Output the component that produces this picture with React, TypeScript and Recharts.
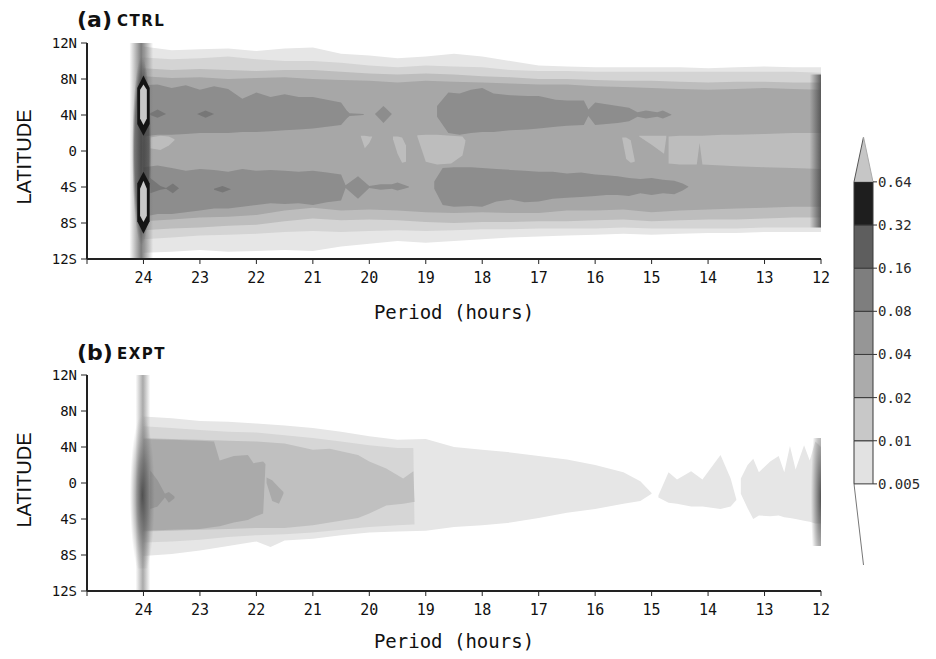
import React from 'react';
import { ComposedChart, Area, XAxis, YAxis, BarChart, Bar } from 'recharts';

// [period (h), southern edge (deg), northern edge (deg)]
type Seg = [number, number, number];

const periodTicks = [25, 24, 23, 22, 21, 20, 19, 18, 17, 16, 15, 14, 13, 12];
const latTicks = [12, 8, 4, 0, -4, -8, -12];

// ---- (a) CTRL : outer contour bands on a half-hour grid ----
const ctrlPeriods = [24, 23.5, 23, 22.5, 22, 21.5, 21, 20.5, 20, 19.5, 19, 18.5, 18, 17.5, 17, 16.5, 16, 15.5, 15, 14.5, 14, 13.5, 13, 12.5, 12];
const ctrlL1Hi = [11.6, 11.2, 11.3, 11.4, 11.1, 11.4, 11.5, 10.8, 10.6, 10.3, 10.5, 10.8, 10.5, 10.0, 9.5, 9.4, 9.3, 9.3, 9.3, 9.3, 9.2, 9.3, 9.4, 9.3, 9.3];
const ctrlL1Lo = [-11.3, -11.2, -11.0, -11.2, -11.1, -11.0, -11.1, -10.6, -10.3, -10.0, -10.2, -10.0, -9.8, -9.6, -9.5, -9.4, -9.3, -9.2, -9.3, -9.2, -9.1, -9.1, -9.0, -9.0, -9.0];
const ctrlL2Hi = [10.4, 10.2, 10.3, 10.5, 10.2, 10.0, 10.0, 9.8, 9.5, 9.3, 9.5, 9.4, 9.3, 9.0, 8.9, 8.9, 8.8, 8.8, 8.8, 8.8, 8.8, 8.8, 8.8, 8.8, 8.7];
const ctrlL2Lo = [-9.8, -9.6, -9.4, -9.3, -9.2, -9.0, -8.9, -9.0, -8.9, -8.8, -8.9, -8.8, -8.7, -8.7, -8.6, -8.6, -8.6, -8.5, -8.6, -8.6, -8.6, -8.6, -8.5, -8.5, -8.5];
const ctrlL3Hi = [9.2, 9.0, 9.1, 9.0, 8.9, 9.0, 9.0, 8.8, 8.6, 8.5, 8.6, 8.5, 8.3, 8.2, 8.0, 8.0, 7.9, 7.8, 7.8, 7.7, 7.6, 7.7, 7.7, 7.6, 7.6];
const ctrlL3Lo = [-8.8, -8.6, -8.5, -8.3, -8.2, -7.8, -7.5, -7.7, -7.6, -7.7, -7.9, -8.0, -7.9, -7.9, -7.8, -7.8, -7.7, -7.6, -7.8, -7.7, -7.6, -7.6, -7.5, -7.4, -7.4];
const ctrlL4Hi = [8.3, 8.1, 8.2, 8.0, 8.1, 8.2, 8.0, 7.9, 7.8, 7.6, 7.8, 7.7, 7.6, 7.5, 7.4, 7.4, 7.2, 7.1, 7.0, 6.9, 6.8, 6.9, 7.0, 6.9, 6.8];
const ctrlL4Lo = [-7.8, -7.6, -7.4, -7.3, -7.1, -6.6, -6.3, -6.6, -6.5, -6.6, -6.8, -6.9, -6.8, -6.9, -6.9, -6.6, -6.6, -6.5, -6.8, -6.6, -6.5, -6.4, -6.3, -6.2, -6.2];

// weaker patches near the equator
const ctrlHoles: Seg[][] = [
  [[23.88, 0.3, 1.5], [23.7, 0.1, 1.7], [23.55, 0.6, 1.6], [23.45, 1.2, 1.3]],
  [[20.15, 1.6, 1.7], [20.08, 0.3, 1.7], [20.0, 0.9, 1.6], [19.95, 1.55, 1.6]],
  [[19.58, 1.3, 1.6], [19.5, -0.3, 1.6], [19.42, -1.3, 1.5], [19.35, -1.2, 0.6]],
  [[19.15, 1.6, 1.75], [19.0, -1.2, 1.8], [18.8, -1.5, 1.8], [18.55, -1.4, 1.7], [18.35, -0.5, 1.6], [18.3, 1.0, 1.2]],
  [[15.52, 1.4, 1.5], [15.45, -0.9, 1.5], [15.37, -1.3, 1.2], [15.3, -1.2, -1.0]],
  [[15.22, 1.6, 1.7], [15.0, 0.7, 1.7], [14.78, -0.3, 1.7], [14.74, 1.5, 1.7]],
  [[14.7, -1.4, 1.6], [14.5, -1.5, 1.7], [14.2, -1.5, 1.7], [14.15, 0.9, 1.7], [14.1, -1.5, 1.7], [13.75, -1.6, 1.8], [13.5, -1.7, 1.8], [13.0, -1.8, 1.9], [12.5, -1.9, 2.0], [12.0, -2.0, 2.0]],
];

// stronger bands along 4N and 4S
const ctrlNorth1: Seg[] = [[24, 1.6, 7.3], [23.75, 1.8, 7.4], [23.5, 1.8, 7.0], [23.25, 1.9, 7.3], [23, 2.0, 6.8], [22.75, 2.0, 7.2], [22.5, 2.0, 6.9], [22.25, 2.1, 5.8], [22, 2.1, 6.5], [21.75, 2.2, 6.0], [21.5, 2.3, 6.3], [21.25, 2.4, 6.0], [21, 2.5, 6.0], [20.75, 2.7, 5.7], [20.5, 2.9, 5.4], [20.4, 3.6, 4.5], [20.35, 3.9, 4.2], [20.1, 4.0, 4.1]];
const ctrlNorth2: Seg[] = [[19.9, 4.1, 4.1], [19.75, 3.1, 5.0], [19.6, 4.1, 4.1]];
const ctrlNorth3: Seg[] = [[18.8, 3.8, 5.0], [18.6, 2.0, 6.5], [18.4, 1.8, 6.4], [18.2, 2.0, 6.8], [18.0, 2.1, 7.0], [17.8, 2.1, 6.4], [17.5, 2.3, 6.2], [17.2, 2.4, 6.1], [17.0, 2.5, 6.1], [16.7, 2.7, 5.7], [16.5, 2.8, 5.6], [16.2, 2.9, 5.6], [16.12, 3.9, 4.6], [16.0, 2.9, 5.4], [15.8, 3.0, 5.2], [15.6, 3.1, 5.0], [15.4, 3.3, 4.8], [15.25, 3.8, 4.3], [15.1, 3.6, 4.5], [14.9, 3.8, 4.3], [14.8, 3.6, 4.5], [14.65, 4.0, 4.05]];
const ctrlSouth1: Seg[] = [[24, -7.3, -1.8], [23.75, -7.0, -1.6], [23.5, -7.0, -1.9], [23.25, -6.8, -2.2], [23, -6.6, -2.0], [22.75, -6.4, -2.1], [22.5, -6.4, -2.3], [22.25, -6.2, -2.0], [22, -6.0, -2.2], [21.75, -5.8, -2.1], [21.5, -5.9, -2.2], [21.25, -5.8, -2.3], [21, -6.0, -2.2], [20.75, -5.7, -2.4], [20.5, -5.5, -2.6], [20.42, -4.1, -3.8], [20.2, -5.3, -2.8], [20.0, -4.1, -3.9], [19.8, -4.3, -3.7], [19.6, -4.2, -3.7], [19.5, -4.4, -3.5], [19.3, -4.05, -3.95]];
const ctrlSouth2: Seg[] = [[18.85, -4.2, -3.4], [18.7, -6.0, -1.9], [18.5, -6.2, -1.8], [18.2, -6.1, -1.8], [18.0, -6.2, -1.9], [17.75, -5.6, -2.0], [17.5, -5.4, -2.1], [17.25, -5.7, -2.2], [17.0, -5.6, -2.3], [16.75, -5.3, -2.3], [16.5, -5.2, -2.5], [16.25, -5.1, -2.4], [16.0, -5.0, -2.6], [15.8, -4.9, -2.7], [15.6, -4.9, -2.8], [15.4, -5.0, -3.0], [15.2, -4.7, -3.1], [15.0, -4.9, -3.0], [14.8, -4.7, -3.2], [14.6, -4.8, -3.3], [14.45, -4.4, -3.6], [14.35, -4.0, -3.95]];
const ctrlDiamonds: Seg[][] = [
  [[23.88, 4.0, 4.2], [23.75, 3.7, 4.6], [23.6, 4.1, 4.1]],
  [[23.05, 4.1, 4.1], [22.9, 3.7, 4.5], [22.75, 4.1, 4.1]],
  [[23.88, -4.7, -3.0], [23.7, -4.3, -3.9], [23.6, -4.2, -4.1], [23.48, -4.7, -3.6], [23.37, -4.15, -4.15]],
  [[22.75, -4.3, -4.2], [22.6, -4.6, -3.9], [22.45, -4.25, -4.25]],
];
// diurnal peak at 24 h and the 12 h edge
const ctrlSpike24: Seg[] = [[24.25, -12, 12], [23.83, -12, 12]];
const ctrlSpike24Core: Seg[] = [[24.2, -10.5, 10.5], [23.86, -10.5, 10.5]];
const ctrlSpike12: Seg[] = [[12.2, -8.5, 8.5], [12.0, -8.5, 8.5]];
const ctrlRingN: Seg[] = [[24.11, 3.0, 7.0], [24.0, 1.7, 8.4], [23.89, 3.0, 7.0]];
const ctrlEyeN: Seg[] = [[24.06, 3.6, 6.8], [24.0, 2.9, 7.4], [23.94, 3.6, 6.8]];
const ctrlRingS: Seg[] = [[24.11, -7.8, -3.6], [24.0, -9.2, -2.3], [23.89, -7.8, -3.6]];
const ctrlEyeS: Seg[] = [[24.06, -7.2, -4.2], [24.0, -7.9, -3.3], [23.94, -7.2, -4.2]];

// ---- (b) EXPT ----
const exptOuter: Seg[][] = [
  [[24, -8.1, 7.4], [23.5, -7.9, 7.2], [23, -7.5, 6.9], [22.5, -7.0, 6.8], [22, -6.5, 6.6], [21.75, -7.1, 6.5], [21.5, -6.4, 6.4], [21, -6.2, 6.1], [20.5, -5.8, 5.7], [20, -5.5, 5.2], [19.5, -5.4, 4.8], [19, -5.3, 4.9], [18.5, -4.9, 4.0], [18, -4.7, 3.7], [17.5, -4.4, 3.4], [17, -3.9, 3.0], [16.5, -3.3, 2.6], [16, -2.9, 2.0], [15.5, -2.3, 1.2], [15.2, -2.0, 0.2], [15.0, -1.2, -1.1]],
  [[14.88, -1.6, -1.4], [14.7, -2.2, 1.2], [14.55, -2.3, 0.4], [14.3, -2.6, 1.3], [14.1, -2.6, 0.4], [13.78, -2.9, 3.1], [13.6, -2.6, 0.5], [13.5, -1.9, -1.8]],
  [[13.42, -1.2, 0.5], [13.3, -2.8, 2.0], [13.2, -4.0, 2.7], [13.1, -3.6, 1.2], [12.9, -3.7, 2.4], [12.75, -3.6, 3.0], [12.65, -3.8, 1.2], [12.55, -3.9, 4.1], [12.45, -4.0, 1.5], [12.3, -4.2, 4.2], [12.2, -4.3, 2.5], [12.1, -4.5, 4.6], [12.0, -4.5, 4.0]],
];
const exptL2: Seg[] = [[24, -6.6, 6.3], [23.5, -6.5, 6.1], [23, -6.3, 5.9], [22.5, -6.0, 5.7], [22, -5.8, 5.6], [21.5, -5.7, 5.3], [21, -5.5, 5.0], [20.5, -5.2, 4.6], [20, -4.9, 4.2], [19.5, -4.7, 3.9], [19.22, -4.6, 3.9], [19.2, -4.6, -4.5]];
const exptL3: Seg[] = [[24, -5.4, 5.0], [23.5, -5.3, 4.9], [23, -5.2, 4.8], [22.5, -5.1, 4.7], [22, -5.0, 4.6], [21.5, -5.0, 4.4], [21, -4.7, 3.7], [20.7, -4.4, 3.8], [20.2, -3.9, 3.1], [20, -3.4, 2.4], [19.7, -2.5, 1.6], [19.4, -2.3, 0.5], [19.22, -2.1, 1.3], [19.2, -2.1, -2.0]];
const exptL4: Seg[][] = [
  [[24, -5.3, 4.9], [23.5, -5.2, 4.8], [23, -5.1, 4.7], [22.75, -4.9, 4.6], [22.65, -4.8, 2.5], [22.4, -4.4, 3.0], [22.15, -4.1, 3.1], [22.05, -3.8, 2.2], [21.88, -3.4, 2.4], [21.84, 1.9, 2.1]],
  [[21.82, 0.0, 0.6], [21.72, -2.0, 0.3], [21.6, -2.3, -0.5], [21.52, -1.2, -1.0]],
];
const exptL5: Seg[] = [[23.88, -2.9, 1.4], [23.75, -2.6, 0.3], [23.62, -1.6, -1.2], [23.55, -2.2, -1.0], [23.45, -1.7, -1.5]];
const exptSpike24: Seg[] = [[24.14, -12, 12], [23.88, -12, 12]];
const exptSpike24Core: Seg[] = [[24.24, -9.5, 8.5], [23.8, -9.5, 8.5]];
const exptSpike12: Seg[] = [[12.2, -7, 5], [12.0, -7, 5]];

// ---- colour bar ----
const cbLevels = ['0.005', '0.01', '0.02', '0.04', '0.08', '0.16', '0.32', '0.64'];
const cbFills = ['#e2e2e2', '#c8c8c8', '#ababab', '#969696', '#7e7e7e', '#5e5e5e', '#1e1e1e'];

const MONO = '"DejaVu Sans Mono", monospace';

const gridRows = (lo: number[], hi: number[]) => ctrlPeriods.map((p, i) => ({ p, v: [lo[i], hi[i]] }));
const segRows = (s: Seg[]) => s.map(([p, lo, hi]) => ({ p, v: [lo, hi] }));

const band = (key: string, rows: { p: number; v: number[] }[], fill: string) => (
  <Area
    key={key}
    data={rows}
    dataKey="v"
    type="linear"
    stroke="none"
    fill={fill}
    fillOpacity={1}
    dot={false}
    activeDot={false}
    isAnimationActive={false}
  />
);

const latFmt = (v: number) => (v > 0 ? `${v}N` : v < 0 ? `${-v}S` : '0');

function Panel({ defs, layers, labelOffset }: { defs: React.ReactNode; layers: React.ReactNode[]; labelOffset: number }) {
  return (
    <ComposedChart width={936} height={330} margin={{ top: 43, right: 115, bottom: 11, left: 47 }}>
      {defs}
      <XAxis
        type="number"
        dataKey="p"
        domain={[12, 25]}
        reversed
        allowDataOverflow
        ticks={periodTicks}
        interval={0}
        tickFormatter={(v: number) => (v === 25 ? '' : String(v))}
        height={60}
        tickSize={5}
        tickMargin={8}
        tick={{ fontSize: 15, fill: '#111', fontFamily: MONO }}
        tickLine={{ stroke: '#222' }}
        axisLine={{ stroke: '#222', strokeWidth: 2 }}
        label={{ value: 'Period (hours)', position: 'insideBottom', offset: labelOffset, fontSize: 19, fill: '#111', fontFamily: MONO }}
      />
      <XAxis xAxisId="top" orientation="top" type="number" domain={[12, 25]} height={0} tick={false} tickLine={false} axisLine={{ stroke: '#222', strokeWidth: 2 }} />
      <YAxis
        type="number"
        domain={[-12, 12]}
        allowDataOverflow
        ticks={latTicks}
        interval={0}
        tickFormatter={latFmt}
        width={40}
        tickSize={6}
        tickMargin={4}
        tick={{ fontSize: 14, fill: '#111', fontFamily: MONO }}
        tickLine={{ stroke: '#222' }}
        axisLine={{ stroke: '#222', strokeWidth: 2 }}
      />
      <YAxis yAxisId="right" orientation="right" type="number" domain={[-12, 12]} width={0} tick={false} tickLine={false} axisLine={{ stroke: '#222', strokeWidth: 2 }} />
      {layers}
    </ComposedChart>
  );
}

const hGrad = (id: string, color: string, peak: number) => (
  <linearGradient id={id} x1="0" y1="0" x2="1" y2="0">
    <stop offset="0" stopColor={color} stopOpacity={0} />
    <stop offset="0.5" stopColor={color} stopOpacity={peak} />
    <stop offset="1" stopColor={color} stopOpacity={0} />
  </linearGradient>
);

function CtrlPanel() {
  const defs = (
    <defs>
      {hGrad('ctrlSpike', '#6e6e6e', 0.9)}
      <radialGradient id="ctrlSpikeCore" cx="0.5" cy="0.5" r="0.5">
        <stop offset="0" stopColor="#2a2a2a" stopOpacity={0.6} />
        <stop offset="0.75" stopColor="#2a2a2a" stopOpacity={0.5} />
        <stop offset="1" stopColor="#2a2a2a" stopOpacity={0} />
      </radialGradient>
      <linearGradient id="ctrlEdge" x1="0" y1="0" x2="1" y2="0">
        <stop offset="0" stopColor="#4a4a4a" stopOpacity={0} />
        <stop offset="1" stopColor="#4a4a4a" stopOpacity={0.85} />
      </linearGradient>
    </defs>
  );
  const layers = [
    band('l1', gridRows(ctrlL1Lo, ctrlL1Hi), '#e6e6e6'),
    band('l2', gridRows(ctrlL2Lo, ctrlL2Hi), '#d4d4d4'),
    band('l3', gridRows(ctrlL3Lo, ctrlL3Hi), '#bdbdbd'),
    band('l4', gridRows(ctrlL4Lo, ctrlL4Hi), '#a7a7a7'),
    ...ctrlHoles.map((h, i) => band(`h${i}`, segRows(h), '#bdbdbd')),
    band('n1', segRows(ctrlNorth1), '#8d8d8d'),
    band('n2', segRows(ctrlNorth2), '#8d8d8d'),
    band('n3', segRows(ctrlNorth3), '#8d8d8d'),
    band('s1', segRows(ctrlSouth1), '#8d8d8d'),
    band('s2', segRows(ctrlSouth2), '#8d8d8d'),
    ...ctrlDiamonds.map((d, i) => band(`d${i}`, segRows(d), '#777777')),
    band('sp', segRows(ctrlSpike24), 'url(#ctrlSpike)'),
    band('spc', segRows(ctrlSpike24Core), 'url(#ctrlSpikeCore)'),
    band('e12', segRows(ctrlSpike12), 'url(#ctrlEdge)'),
    band('rn', segRows(ctrlRingN), '#141414'),
    band('en', segRows(ctrlEyeN), '#c8c8c8'),
    band('rs', segRows(ctrlRingS), '#141414'),
    band('es', segRows(ctrlEyeS), '#c8c8c8'),
  ];
  return <Panel defs={defs} layers={layers} labelOffset={0} />;
}

function ExptPanel() {
  const defs = (
    <defs>
      {hGrad('exptSpike', '#9a9a9a', 0.85)}
      <radialGradient id="exptSpikeCore" cx="0.5" cy="0.55" r="0.5">
        <stop offset="0" stopColor="#404040" stopOpacity={0.85} />
        <stop offset="0.45" stopColor="#5a5a5a" stopOpacity={0.6} />
        <stop offset="1" stopColor="#707070" stopOpacity={0} />
      </radialGradient>
      <radialGradient id="exptEdge" cx="1" cy="0.55" r="0.9">
        <stop offset="0" stopColor="#404040" stopOpacity={0.9} />
        <stop offset="1" stopColor="#404040" stopOpacity={0} />
      </radialGradient>
    </defs>
  );
  const layers = [
    ...exptOuter.map((s, i) => band(`o${i}`, segRows(s), '#e6e6e6')),
    band('l2', segRows(exptL2), '#d6d6d6'),
    band('l3', segRows(exptL3), '#c0c0c0'),
    ...exptL4.map((s, i) => band(`l4${i}`, segRows(s), '#aaaaaa')),
    band('l5', segRows(exptL5), '#989898'),
    band('sp', segRows(exptSpike24), 'url(#exptSpike)'),
    band('spc', segRows(exptSpike24Core), 'url(#exptSpikeCore)'),
    band('e12', segRows(exptSpike12), 'url(#exptEdge)'),
  ];
  return <Panel defs={defs} layers={layers} labelOffset={3} />;
}

const HighTri = (p: any) => {
  const { x, y, width, height } = p;
  return (
    <g>
      <polygon points={`${x},${y + height} ${x + width},${y + height} ${x + width / 2},${y}`} fill="#c6c6c6" />
      <line x1={x} y1={y + height} x2={x + width / 2} y2={y} stroke="#555" />
      <line x1={x + width} y1={y + height} x2={x + width / 2} y2={y} stroke="#aaa" />
    </g>
  );
};

const LowTri = (p: any) => {
  const { x, y, width, height } = p;
  return (
    <g>
      <polygon points={`${x},${y} ${x + width},${y} ${x + width / 2},${y + height}`} fill="#fff" />
      <line x1={x} y1={y} x2={x + width / 2} y2={y + height} stroke="#777" />
    </g>
  );
};

function ColorBar() {
  const lowTip = 1.88;
  const highTip = 1.04;
  const row: Record<string, number | string> = { name: 'cb', low: lowTip, high: highTip };
  cbFills.forEach((_, i) => {
    row[`b${i}`] = 1;
  });
  const total = lowTip + cbFills.length + highTip;
  const ticks = cbLevels.map((_, i) => lowTip + i);
  return (
    <BarChart width={106} height={460} data={[row]} margin={{ top: 17, right: 0, bottom: 15, left: 24 }} barCategoryGap={0}>
      <XAxis dataKey="name" hide height={0} />
      <YAxis
        orientation="right"
        type="number"
        domain={[0, total]}
        allowDataOverflow
        ticks={ticks}
        interval={0}
        tickFormatter={(v: number) => cbLevels[Math.round(v - lowTip)]}
        width={63}
        axisLine={false}
        tickSize={4}
        tickMargin={1}
        tickLine={{ stroke: '#333' }}
        tick={{ fontSize: 14, fill: '#2a2a2a', fontFamily: MONO, textAnchor: 'start' }}
      />
      <Bar dataKey="low" stackId="c" isAnimationActive={false} shape={LowTri} />
      {cbFills.map((f, i) => (
        <Bar key={i} dataKey={`b${i}`} stackId="c" fill={f} stroke="#3a3a3a" strokeWidth={1} isAnimationActive={false} />
      ))}
      <Bar dataKey="high" stackId="c" isAnimationActive={false} shape={HighTri} />
    </BarChart>
  );
}

export default function App() {
  const sans = '"DejaVu Sans", sans-serif';
  return (
    <div style={{ position: 'absolute', left: 0, top: 0, width: 936, height: 659, background: '#fff', overflow: 'hidden' }}>
      <div style={{ position: 'absolute', left: 0, top: 0 }}>
        <CtrlPanel />
      </div>
      <div style={{ position: 'absolute', left: 0, top: 332 }}>
        <ExptPanel />
      </div>
      <div style={{ position: 'absolute', left: 830, top: 120 }}>
        <ColorBar />
      </div>
      <svg width={936} height={659} style={{ position: 'absolute', left: 0, top: 0, pointerEvents: 'none' }}>
        <text x={77} y={27} fontSize={22} fontWeight="bold" fontFamily={sans} fill="#111">(a)</text>
        <text x={117} y={26} fontSize={15} fontWeight="bold" fontFamily={sans} letterSpacing={1.5} fill="#111">CTRL</text>
        <text x={77} y={360} fontSize={22} fontWeight="bold" fontFamily={sans} fill="#111">(b)</text>
        <text x={117} y={359} fontSize={15} fontWeight="bold" fontFamily={sans} letterSpacing={1.5} fill="#111">EXPT</text>
        <text x={24} y={157} transform="rotate(-90 24 157)" textAnchor="middle" dominantBaseline="central" fontSize={20} fontFamily='"Liberation Sans", sans-serif' fill="#111">LATITUDE</text>
        <text x={24} y={480} transform="rotate(-90 24 480)" textAnchor="middle" dominantBaseline="central" fontSize={20} fontFamily='"Liberation Sans", sans-serif' fill="#111">LATITUDE</text>
      </svg>
    </div>
  );
}
